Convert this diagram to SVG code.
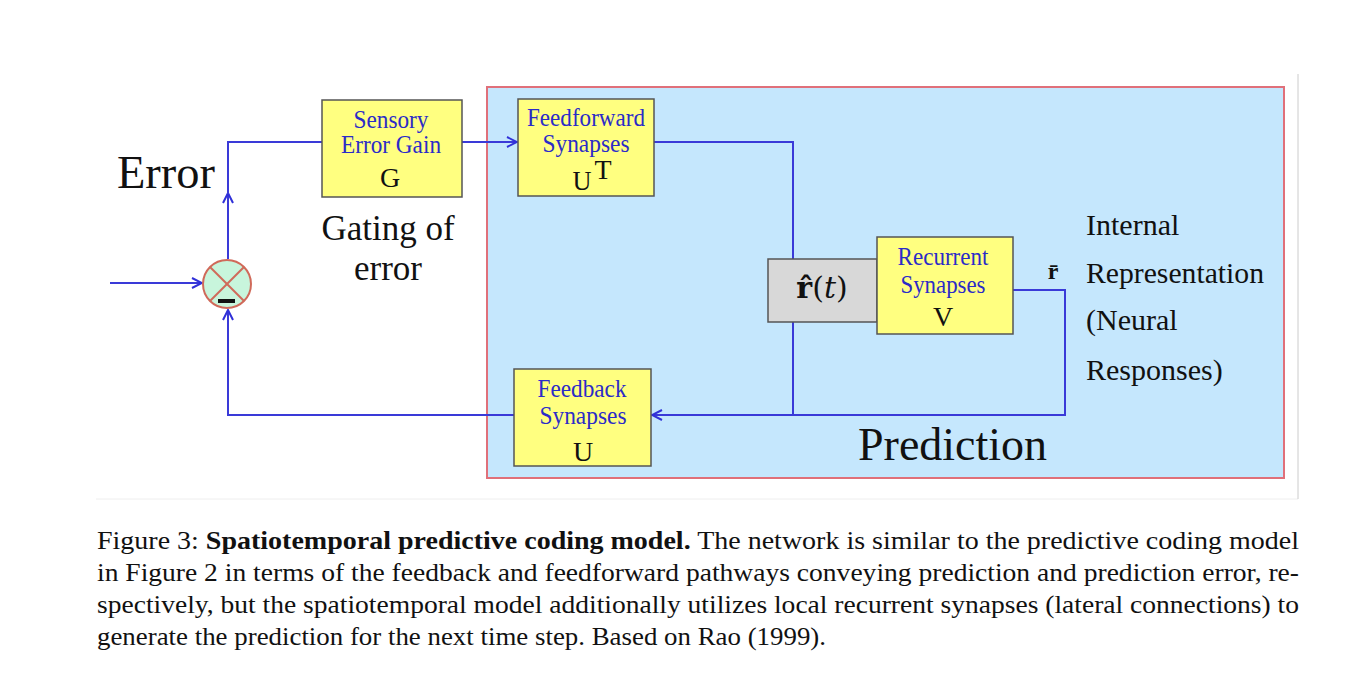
<svg xmlns="http://www.w3.org/2000/svg" width="1366" height="676" viewBox="0 0 1366 676">
<style>
.box{fill:#ffff80;stroke:#555;stroke-width:1.5}
.blab{font-family:"Liberation Serif",serif;font-size:25px;fill:#2b2bc8;text-anchor:middle}
.sym{font-family:"Liberation Serif",serif;font-size:28px;fill:#111;text-anchor:middle}
.big{font-family:"Liberation Serif",serif;fill:#111}
.wire{fill:none;stroke:#3a3ad8;stroke-width:2}
.cap{font-family:"Liberation Serif","DejaVu Serif",serif;font-size:26px;fill:#111}
</style>
<defs>
<marker id="ah" viewBox="0 0 12 12" refX="11" refY="6" markerWidth="12" markerHeight="12" markerUnits="userSpaceOnUse" orient="auto">
<path d="M1,1 L11,6 L1,11" fill="none" stroke="#3030d8" stroke-width="2"/>
</marker>
</defs>
<rect width="1366" height="676" fill="#fff"/>
<line x1="96" y1="499" x2="1298" y2="499" stroke="#eee" stroke-width="1"/>
<line x1="1298" y1="74" x2="1298" y2="499" stroke="#ccc" stroke-width="1"/>
<g id="prediction-region">
<rect x="487" y="87" width="797" height="391" fill="#c5e7fd" stroke="#e0707a" stroke-width="2"/>
<text class="big" x="858" y="460" font-size="46">Prediction</text>
</g>
<g id="connectors">
<path class="wire" d="M110,283 L202,283" marker-end="url(#ah)"/>
<path class="wire" d="M228,259 L228,193" marker-end="url(#ah)"/>
<path class="wire" d="M228,194 L228,142 L322,142"/>
<path class="wire" d="M462,142 L517,142" marker-end="url(#ah)"/>
<path class="wire" d="M654,142 L793,142 L793,259"/>
<path class="wire" d="M793,322 L793,415"/>
<path class="wire" d="M1013,290 L1065,290 L1065,415 L652,415" marker-end="url(#ah)"/>
<path class="wire" d="M514,415 L228,415 L228,310" marker-end="url(#ah)"/>
</g>
<g id="error-label"><text class="big" x="117" y="188" font-size="47" textLength="98" lengthAdjust="spacingAndGlyphs">Error</text></g>
<g id="comparator">
<circle cx="227" cy="284" r="24" fill="#c8f5dc" stroke="#d06a5a" stroke-width="2"/>
<line x1="210" y1="267" x2="244" y2="301" stroke="#d06a5a" stroke-width="2"/>
<line x1="244" y1="267" x2="210" y2="301" stroke="#d06a5a" stroke-width="2"/>
<rect x="218" y="299" width="17" height="4" fill="#111"/>
</g>
<g id="sensory-error-gain">
<rect class="box" x="322" y="100" width="140" height="97"/>
<text class="blab" x="391" y="128" textLength="75" lengthAdjust="spacingAndGlyphs">Sensory</text>
<text class="blab" x="391" y="153" textLength="100" lengthAdjust="spacingAndGlyphs">Error Gain</text>
<text class="sym" x="390" y="187">G</text>
</g>
<g id="gating-label">
<text class="big" x="388" y="240" font-size="35" text-anchor="middle">Gating of</text>
<text class="big" x="388" y="280" font-size="35" text-anchor="middle">error</text>
</g>
<g id="feedforward-synapses">
<rect class="box" x="518" y="99" width="136" height="97"/>
<text class="blab" x="586" y="126" textLength="118" lengthAdjust="spacingAndGlyphs">Feedforward</text>
<text class="blab" x="586" y="152" textLength="87" lengthAdjust="spacingAndGlyphs">Synapses</text>
<text class="sym" x="582" y="190" font-size="32" textLength="19" lengthAdjust="spacingAndGlyphs">U</text>
<text class="sym" x="603" y="179" font-size="17">T</text>
</g>
<g id="r-hat">
<rect x="768" y="259" width="109" height="63" fill="#d8d8d8" stroke="#555" stroke-width="1.5"/>
<text x="822" y="298" font-family="DejaVu Serif,serif" font-size="30" fill="#111" text-anchor="middle"><tspan font-weight="bold">r̂</tspan>(<tspan font-style="italic">t</tspan>)</text>
</g>
<g id="recurrent-synapses">
<rect class="box" x="877" y="237" width="136" height="97"/>
<text class="blab" x="943" y="265" textLength="91" lengthAdjust="spacingAndGlyphs">Recurrent</text>
<text class="blab" x="943" y="293" textLength="85" lengthAdjust="spacingAndGlyphs">Synapses</text>
<text class="sym" x="943" y="326">V</text>
</g>
<g id="r-bar"><text x="1053" y="279" font-family="Liberation Serif,serif" font-size="24" font-weight="bold" fill="#111" text-anchor="middle">r̄</text></g>
<g id="internal-representation">
<text class="big" x="1086" y="235" font-size="30">Internal</text>
<text class="big" x="1086" y="283" font-size="30" textLength="178" lengthAdjust="spacingAndGlyphs">Representation</text>
<text class="big" x="1086" y="330" font-size="30">(Neural</text>
<text class="big" x="1086" y="380" font-size="30">Responses)</text>
</g>
<g id="feedback-synapses">
<rect class="box" x="514" y="369" width="137" height="97"/>
<text class="blab" x="582" y="397" textLength="89" lengthAdjust="spacingAndGlyphs">Feedback</text>
<text class="blab" x="583" y="424" textLength="87" lengthAdjust="spacingAndGlyphs">Synapses</text>
<text class="sym" x="583" y="461" font-size="30">U</text>
</g>
<g id="caption">
<text class="cap" x="97" y="549" textLength="1202" lengthAdjust="spacingAndGlyphs">Figure 3: <tspan font-weight="bold">Spatiotemporal predictive coding model.</tspan> The network is similar to the predictive coding model</text>
<text class="cap" x="97" y="581" textLength="1202" lengthAdjust="spacingAndGlyphs">in Figure 2 in terms of the feedback and feedforward pathways conveying prediction and prediction error, re-</text>
<text class="cap" x="97" y="613" textLength="1202" lengthAdjust="spacingAndGlyphs">spectively, but the spatiotemporal model additionally utilizes local recurrent synapses (lateral connections) to</text>
<text class="cap" x="97" y="645" textLength="729" lengthAdjust="spacingAndGlyphs">generate the prediction for the next time step. Based on Rao (1999).</text>
</g>
</svg>
